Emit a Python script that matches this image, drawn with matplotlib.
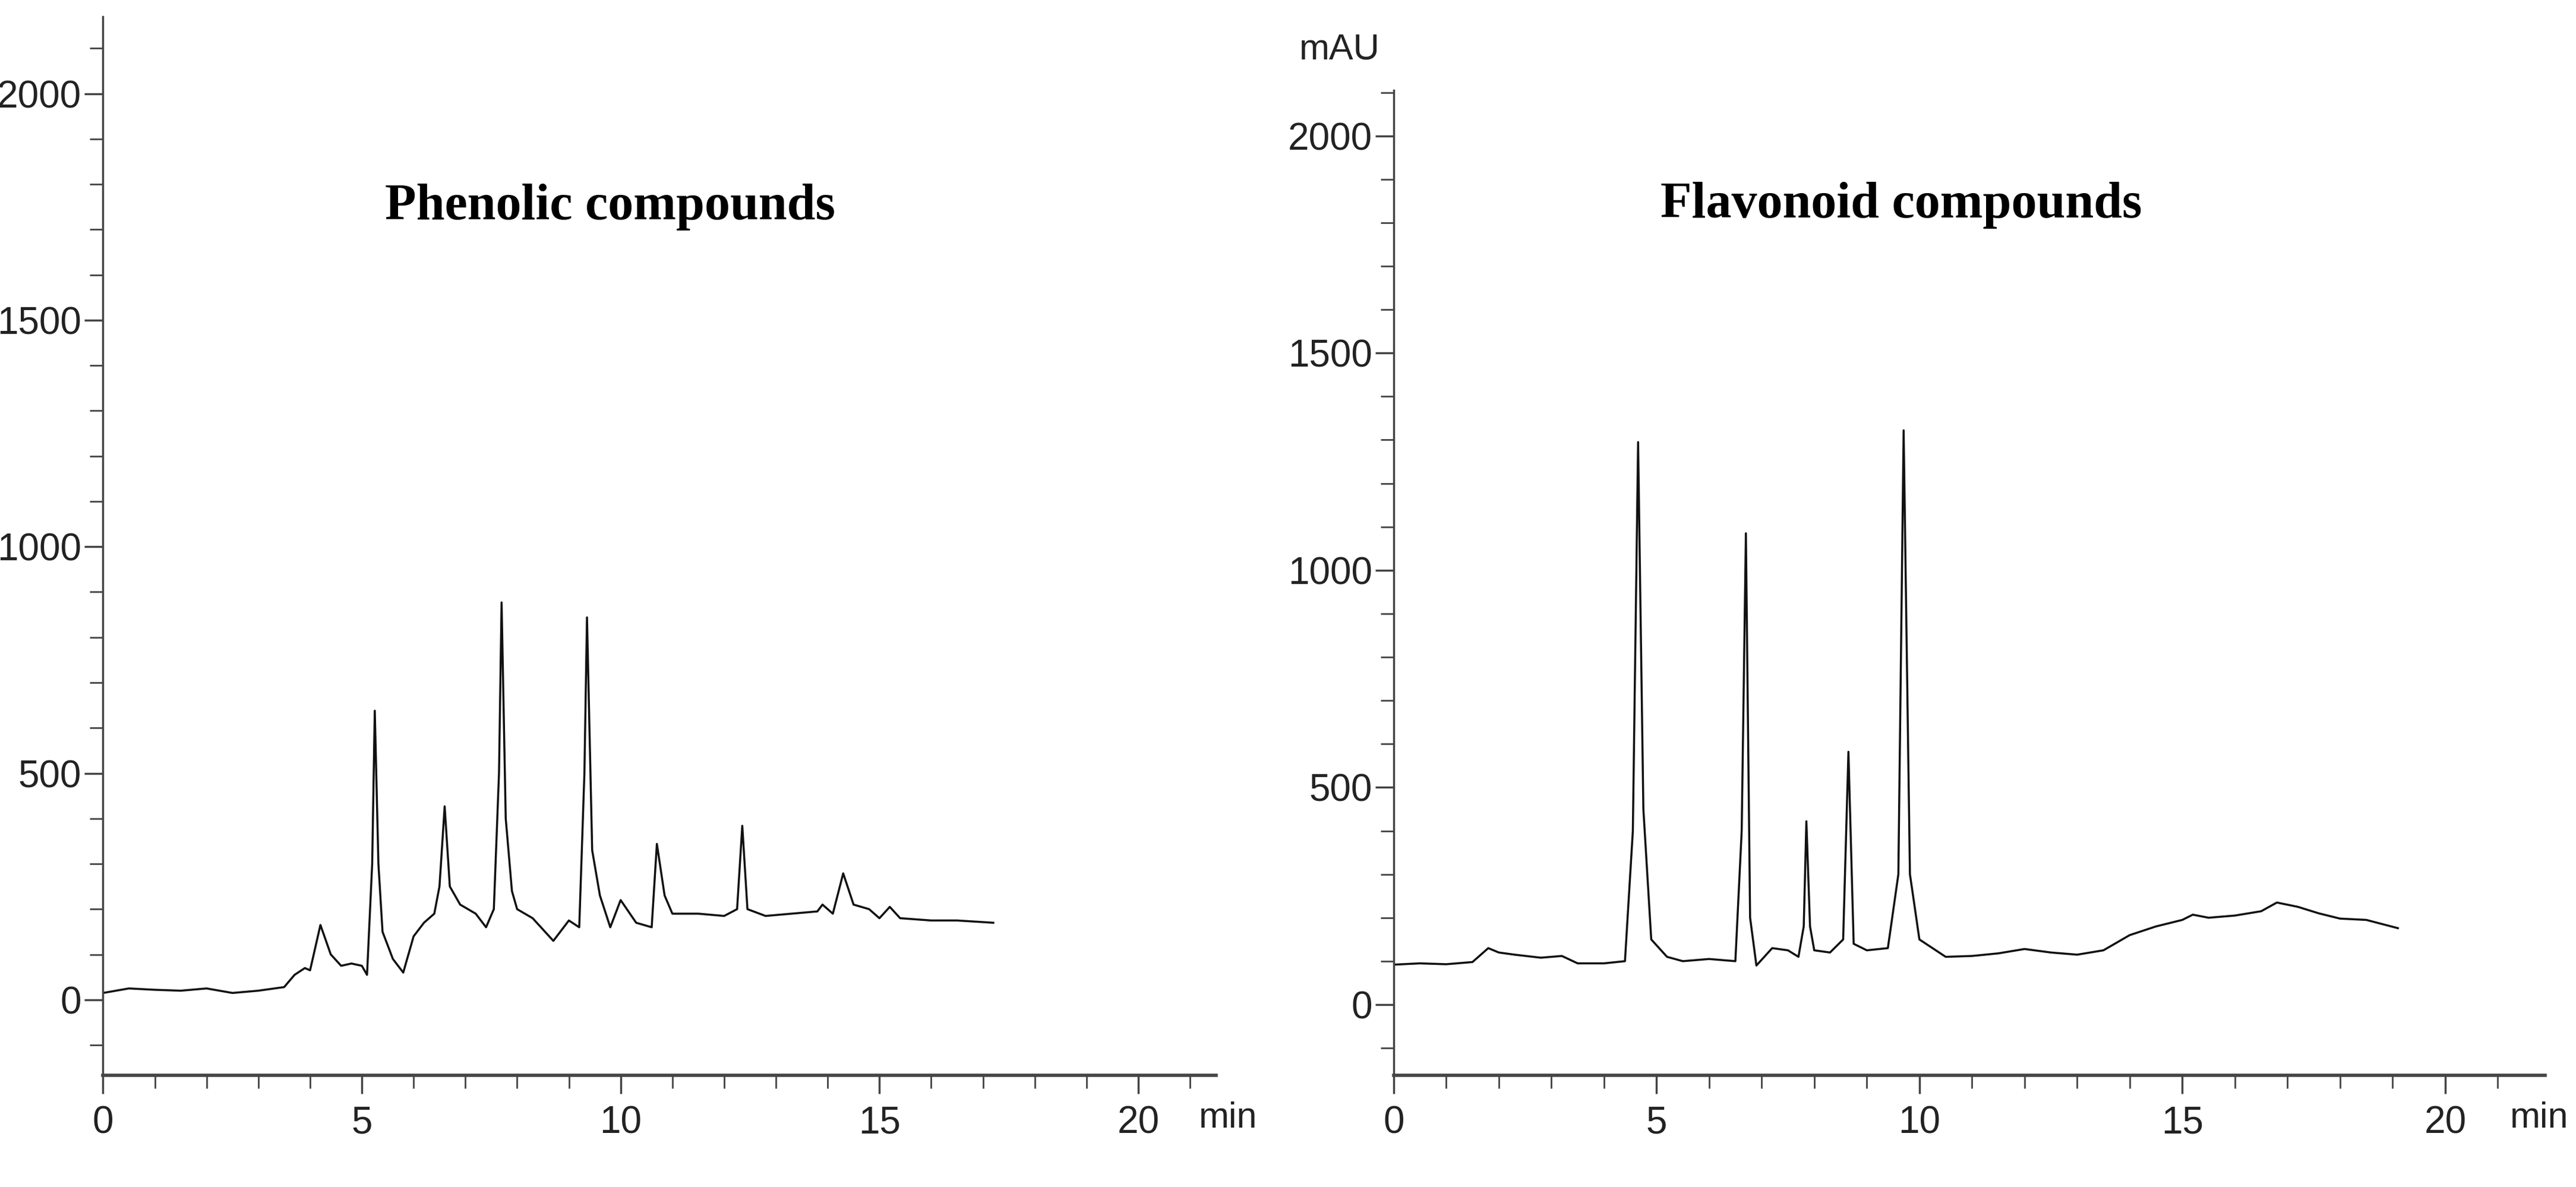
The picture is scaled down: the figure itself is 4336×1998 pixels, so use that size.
import matplotlib
matplotlib.use("Agg")
import matplotlib.pyplot as plt
from matplotlib.ticker import MultipleLocator

phen_t = [0,0.5,1,1.5,2,2.5,3,3.5,3.7,3.9,4.0,4.2,4.4,4.6,4.8,5.0,5.1,5.2,5.25,5.32,5.4,5.6,5.8,6.0,6.2,6.4,6.5,6.6,6.7,6.9,7.2,7.4,7.55,7.65,7.7,7.78,7.9,8.0,8.3,8.7,9.0,9.2,9.3,9.35,9.45,9.6,9.8,10.0,10.3,10.6,10.7,10.85,11.0,11.5,12.0,12.25,12.35,12.45,12.8,13.3,13.8,13.9,14.1,14.3,14.5,14.8,15.0,15.2,15.4,16.0,16.5,17.2]
phen_y = [15,25,22,20,25,15,20,28,55,70,65,165,100,75,80,75,55,300,638,300,150,90,60,140,170,190,250,427,250,210,190,160,200,500,877,400,240,200,180,130,175,160,500,844,330,230,160,220,170,160,344,230,190,190,185,200,384,200,185,190,195,210,190,279,210,200,180,205,180,175,175,170]

flav_t = [0,0.5,1,1.5,1.8,2.0,2.3,2.8,3.2,3.5,4.0,4.4,4.55,4.65,4.75,4.9,5.2,5.5,6.0,6.5,6.62,6.7,6.78,6.9,7.2,7.5,7.7,7.8,7.85,7.92,8.0,8.3,8.55,8.65,8.75,9.0,9.4,9.6,9.7,9.82,10.0,10.5,11,11.5,12,12.5,13,13.5,14,14.5,15,15.2,15.5,16,16.5,16.8,17.2,17.6,18,18.5,19.1]
flav_y = [92,95,93,98,130,120,115,108,112,95,95,100,400,1295,450,150,110,100,105,100,400,1085,200,90,130,125,110,180,422,180,125,120,150,582,140,125,130,300,1322,300,150,110,112,118,128,120,115,125,160,180,195,207,200,205,215,235,225,210,198,195,176]

series = [
    dict(t=phen_t, y=phen_y, pos=[0.040, 0.094, 0.432, 0.892], xlim=(0, 21.5), ylim=(-167, 2170),
         title="Phenolic compounds", tpos=(9.8, 1750), minx=0.488),
    dict(t=flav_t, y=flav_y, pos=[0.541, 0.094, 0.447, 0.830], xlim=(0, 21.9), ylim=(-163, 2105),
         title="Flavonoid compounds", tpos=(9.65, 1840), minx=0.997),
]

fig = plt.figure(figsize=(43.36, 19.98), dpi=100)
col = "#444444"
for s in series:
    ax = fig.add_axes(s["pos"])
    ax.plot(s["t"], s["y"], color="#111111", lw=2.5)
    ax.set_xlim(*s["xlim"]); ax.set_ylim(*s["ylim"])
    for sp in ["top", "right"]:
        ax.spines[sp].set_visible(False)
    ax.spines["left"].set_color(col); ax.spines["bottom"].set_color(col)
    ax.spines["left"].set_linewidth(2.5); ax.spines["bottom"].set_linewidth(4)
    ax.xaxis.set_major_locator(MultipleLocator(5)); ax.xaxis.set_minor_locator(MultipleLocator(1))
    ax.yaxis.set_major_locator(MultipleLocator(500)); ax.yaxis.set_minor_locator(MultipleLocator(100))
    ax.tick_params(which="major", length=22, width=2.5, color=col, labelsize=46, labelcolor="#222222")
    ax.tick_params(axis="x", which="major", pad=14)
    ax.tick_params(axis="y", which="major", pad=4)
    ax.tick_params(which="minor", length=16, width=2, color=col)
    for lab in ax.get_xticklabels() + ax.get_yticklabels():
        lab.set_family("Liberation Sans")
    ax.text(*s["tpos"], s["title"], ha="center", va="center", fontsize=62, fontweight="bold",
            family="Liberation Serif")
    fig.text(s["minx"], 0.072, "min", ha="right", va="top", fontsize=44,
             color="#222222", family="Liberation Sans")
fig.text(0.52, 0.958, "mAU", ha="center", va="center", fontsize=44, color="#222222", family="Liberation Sans")
fig.savefig("out.png", dpi=100, facecolor="white")
